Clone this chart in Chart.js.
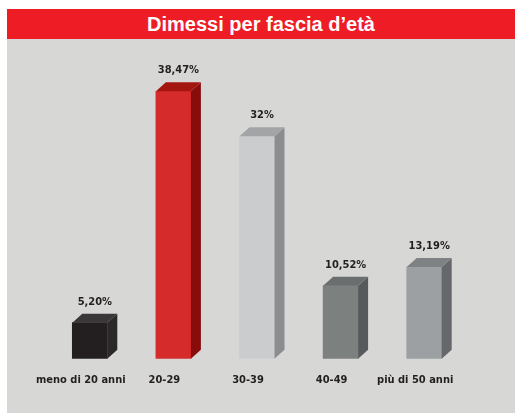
<!DOCTYPE html>
<html>
<head>
<meta charset="utf-8">
<script src="https://cdn.jsdelivr.net/npm/chart.js@4.4.0/dist/chart.umd.min.js"></script>
<style>
  body { margin: 0; background: #fff; width: 515px; height: 413px; overflow: hidden; }
  #band { position: absolute; left: 7px; top: 9px; width: 508px; height: 30px; background: #ee1c25;
          color: #fff; font: bold 20px "Liberation Sans", Arial, sans-serif; text-align: center; line-height: 30px; }
  #box { position: absolute; left: 7px; top: 39px; width: 508px; height: 374px; background: #d7d7d6; }
</style>
</head>
<body>
<div id="band">Dimessi per fascia d’età</div>
<div id="box"><canvas id="ch" width="508" height="374"></canvas></div>
<script>
var categories = ['meno di 20 anni', '20-29', '30-39', '40-49', 'più di 50 anni'];
var values = [5.20, 38.47, 32, 10.52, 13.19];
var valueLabels = ['5,20%', '38,47%', '32%', '10,52%', '13,19%'];
var frontColors = ['#231f20', '#d62b2b', '#cbccce', '#7c817f', '#9da0a2'];
var sideColors = ['#2b2829', '#880c0c', '#8b8d8f', '#58595c', '#65676a'];
var topColors = ['#3a3738', '#a3150f', '#a2a4a6', '#6b6e6e', '#7f8284'];

var cube = {
    id: 'cube',
    afterDatasetsDraw: function (chart) {
        var ctx = chart.ctx;
        var dx = 10, dy = 9;
        chart.getDatasetMeta(0).data.forEach(function (bar, i) {
            var l = bar.x - bar.width / 2, r = bar.x + bar.width / 2;
            var t = bar.y, b = bar.base;
            ctx.save();
            ctx.fillStyle = sideColors[i];
            ctx.beginPath();
            ctx.moveTo(r, t); ctx.lineTo(r + dx, t - dy); ctx.lineTo(r + dx, b - dy); ctx.lineTo(r, b);
            ctx.closePath(); ctx.fill();
            ctx.fillStyle = topColors[i];
            ctx.beginPath();
            ctx.moveTo(l, t); ctx.lineTo(l + dx, t - dy); ctx.lineTo(r + dx, t - dy); ctx.lineTo(r, t);
            ctx.closePath(); ctx.fill();
            ctx.fillStyle = '#231f20';
            ctx.font = 'bold 11px "Liberation Sans Narrow", "DejaVu Sans Condensed", sans-serif';
            ctx.textAlign = 'center';
            ctx.textBaseline = 'middle';
            ctx.fillText(valueLabels[i], bar.x + 5, t - 21);
            ctx.restore();
        });
    }
};

new Chart(document.getElementById('ch').getContext('2d'), {
    type: 'bar',
    data: {
        labels: categories,
        datasets: [{
            data: values,
            backgroundColor: frontColors,
            borderWidth: 0,
            barThickness: 35
        }]
    },
    options: {
        responsive: false,
        animation: false,
        layout: { padding: { left: 41, right: 49, top: 0, bottom: 19 } },
        plugins: { legend: { display: false }, tooltip: { enabled: false } },
        scales: {
            x: {
                grid: { display: false },
                border: { display: false },
                ticks: {
                    color: '#231f20',
                    padding: 7,
                    labelOffset: -9,
                    autoSkip: false,
                    maxRotation: 0,
                    font: { family: '"Liberation Sans Narrow", "DejaVu Sans Condensed", sans-serif', size: 11, weight: 'bold' }
                }
            },
            y: { display: false, min: 0, max: 46 }
        }
    },
    plugins: [cube]
});
</script>
</body>
</html>
